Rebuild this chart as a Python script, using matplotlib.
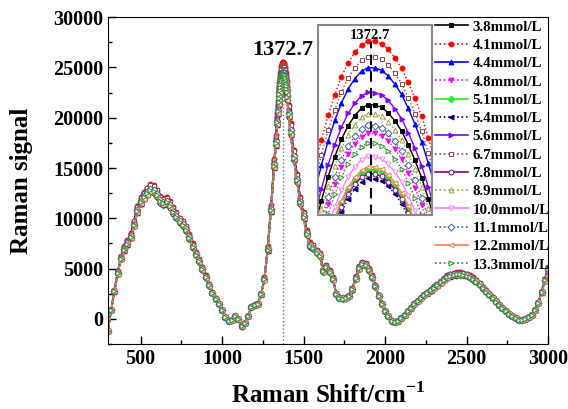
"""Raman spectra at 14 concentrations, with a zoomed inset on the 1372.7 peak."""
import matplotlib
matplotlib.use("Agg")
import matplotlib.pyplot as plt
import numpy as np
from matplotlib.ticker import MultipleLocator

plt.rcParams["font.family"] = ["Liberation Serif", "DejaVu Serif"]
plt.rcParams["font.weight"] = "bold"
plt.rcParams["mathtext.fontset"] = "custom"
plt.rcParams["mathtext.rm"] = "Liberation Serif"
plt.rcParams["mathtext.bf"] = "Liberation Serif:bold"

# Raman shift (cm^-1) and signal of the 3.8 mmol/L spectrum
shift = [
    300, 320, 340, 360, 380, 400, 420, 440, 460, 480, 500, 520, 540, 560,
    580, 600, 620, 640, 660, 680, 700, 720, 740, 760, 780, 800, 820, 840,
    860, 880, 900, 920, 940, 960, 980, 1000, 1020, 1040, 1060, 1080, 1100,
    1120, 1140, 1160, 1180, 1200, 1220, 1240, 1260, 1280, 1300, 1320, 1330,
    1340, 1344, 1348, 1350, 1352, 1354, 1356, 1358, 1360, 1362, 1364, 1366,
    1368, 1370, 1372, 1374, 1376, 1378, 1380, 1382, 1384, 1386, 1388, 1390,
    1392, 1394, 1396, 1400, 1410, 1420, 1440, 1460, 1480, 1500, 1520, 1540,
    1560, 1580, 1600, 1620, 1640, 1660, 1680, 1700, 1720, 1740, 1760, 1780,
    1800, 1820, 1840, 1860, 1880, 1900, 1920, 1940, 1960, 1980, 2000, 2020,
    2040, 2060, 2080, 2100, 2120, 2140, 2160, 2180, 2200, 2220, 2240, 2260,
    2280, 2300, 2320, 2340, 2360, 2380, 2400, 2420, 2440, 2460, 2480, 2500,
    2520, 2540, 2560, 2580, 2600, 2620, 2640, 2660, 2680, 2700, 2720, 2740,
    2760, 2780, 2800, 2820, 2840, 2860, 2880, 2900, 2920, 2940, 2960, 2980,
    3000,
]
signal = [
    -1200, 900, 2800, 4600, 6100, 7000, 7600, 8300, 9500, 10900, 11800,
    12300, 12700, 13000, 12900, 12500, 11900, 11700, 11800, 11400, 10800,
    10300, 9800, 9500, 9000, 8200, 7300, 6500, 5800, 5000, 4200, 3400, 2600,
    2000, 1500, 900, 200, -250, -100, 250, 0, -750, -400, 300, 1200, 1400,
    1500, 2500, 4000, 7000, 11000, 15500, 17800, 19900, 21000, 21950, 22350,
    22790, 23140, 23460, 23750, 24010, 24230, 24420, 24570, 24680, 24760,
    24800, 24795, 24770, 24710, 24620, 24510, 24360, 24190, 24000, 23770,
    23520, 23250, 22960, 22400, 20700, 18900, 16300, 14000, 11800, 10300,
    8600, 7400, 7150, 6700, 6400, 4800, 5200, 4700, 4000, 2500, 2100, 2050,
    2100, 2300, 3000, 4100, 5100, 5500, 5400, 4900, 4200, 3300, 2300, 1500,
    800, 300, -200, -300, -250, 100, 400, 800, 1100, 1500, 1800, 2100, 2400,
    2600, 2900, 3150, 3400, 3700, 3950, 4200, 4350, 4450, 4500, 4500, 4450,
    4350, 4200, 4000, 3750, 3450, 3100, 2750, 2450, 2100, 1750, 1400, 1100,
    800, 500, 250, 50, -100, -100, 0, 150, 400, 900, 1600, 2700, 3900, 5000,
]

labels = [
    "3.8mmol/L", "4.1mmol/L", "4.4mmol/L", "4.8mmol/L", "5.1mmol/L",
    "5.4mmol/L", "5.6mmol/L", "6.7mmol/L", "7.8mmol/L", "8.9mmol/L",
    "10.0mmol/L", "11.1mmol/L", "12.2mmol/L", "13.3mmol/L",
]
# peak height at 1372.7 cm^-1 for each concentration (from the inset)
peak_height = [
    24805, 25500, 25210, 24495, 24095, 24000, 24940,
    25330, 24050, 24705, 24240, 24580, 24125, 24385,
]

colors = [
    "#000000", "#FF0000", "#0000FF", "#FF00FF", "#22EE22", "#000080",
    "#8000FF", "#A04040", "#800080", "#A0A040", "#FF80FF", "#4060A0",
    "#F08050", "#2E8B2E",
]
styles = ["-", ":", "-", ":", "-", ":", "-", ":", "-", ":", "-", ":", "-", ":"]
markers = ["s", "o", "^", "v", "D", "<", ">", "s", "o", "^", "v", "D", "<", ">"]
filled = [True] * 7 + [False] * 7

x = np.array(shift)
base = np.array(signal, dtype=float)

fig = plt.figure(figsize=(5.68, 4.09), dpi=100)
ax = fig.add_axes([0.190, 0.159, 0.775, 0.799])

ax.plot([1372.7, 1372.7], [-2500, 25000], color="#777777", ls=":", lw=1,
        zorder=1)

handles = []
for i, lab in enumerate(labels):
    y = base * peak_height[i] / base.max()
    face = colors[i] if filled[i] else "white"
    (h,) = ax.plot(x, y, color=colors[i], ls=styles[i], lw=1.2,
                   marker=markers[i], ms=3.5, mfc=face, mec=colors[i],
                   mew=0.7, label=lab, zorder=2)
    handles.append(h)

ax.set_xlim(300, 3000)
ax.set_ylim(-2500, 30000)
ax.xaxis.set_major_locator(MultipleLocator(500))
ax.xaxis.set_minor_locator(MultipleLocator(250))
ax.yaxis.set_major_locator(MultipleLocator(5000))
ax.yaxis.set_minor_locator(MultipleLocator(2500))
ax.tick_params(which="both", direction="in", top=False, right=False,
               labelsize=14.5, width=1)
ax.tick_params(which="major", length=6)
ax.tick_params(which="minor", length=3)
for lbl in ax.get_xticklabels() + ax.get_yticklabels():
    lbl.set_fontweight("bold")
ax.set_xlabel(r"Raman Shift/cm$^{\mathbf{-1}}$", fontsize=18,
              fontweight="bold", labelpad=10)
ax.set_ylabel("Raman signal", fontsize=18, fontweight="bold", labelpad=14)
ax.text(1372.7, 26700, "1372.7", ha="center", va="center", fontsize=16,
        fontweight="bold")

ax.legend(handles=handles, loc="upper left", bbox_to_anchor=(0.736, 1.0),
          frameon=False, fontsize=10.8, numpoints=1, handlelength=2.2,
          handletextpad=0.3, labelspacing=0.32, borderpad=0.2,
          borderaxespad=0, markerscale=1.0)

# zoomed inset around the main peak
ins = fig.add_axes([0.560, 0.475, 0.200, 0.465])
for i in range(len(labels)):
    y = base * peak_height[i] / base.max()
    face = colors[i] if filled[i] else "white"
    ins.plot(x, y, color=colors[i], ls=styles[i], lw=1, marker=markers[i],
             ms=3.5, mfc=face, mec=colors[i], mew=0.7)
ins.axvline(1372.7, color="black", ls=(0, (5, 3)), lw=1.5, ymax=0.91)
ins.set_xlim(1357, 1391)
ins.set_ylim(23600, 25680)
ins.set_xticks([])
ins.set_yticks([])
for sp in ins.spines.values():
    sp.set_color("#888888")
    sp.set_linewidth(1.5)
ins.text(0.46, 0.945, "1372.7", transform=ins.transAxes, ha="center",
         va="center", fontsize=10.5, fontweight="bold")

fig.savefig("out.png", dpi=100)
